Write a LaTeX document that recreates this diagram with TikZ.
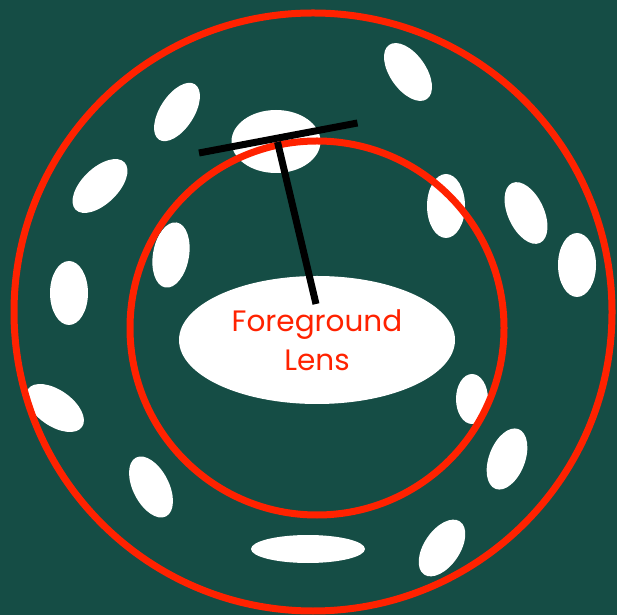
\documentclass[tikz,border=0pt]{standalone}
\usepackage{fontspec}
\usetikzlibrary{shapes.geometric}
\newfontfamily\lensfont{Poppins}
\begin{document}
\begin{tikzpicture}[x=1pt,y=1pt,
  spot/.style={fill=white},
  ring/.style={draw=ringred,line width=7pt},
  tbar/.style={draw=black,line width=7pt},
  lensnode/.style={ellipse,fill=white,minimum width=276pt,minimum height=128pt,inner sep=0pt,align=center,text=ringred,font=\lensfont\fontsize{29.5}{39}\selectfont}]
\definecolor{bg}{RGB}{21,77,69}
\definecolor{ringred}{RGB}{255,34,0}
\fill[bg] (0,0) rectangle (617,615);
\useasboundingbox (0,0) rectangle (617,615);
% white spots
\foreach \x/\y/\a/\b/\t in {276/473.5/44.5/31.5/0, 177/503/33/17/57, 408/543/33/18/125,
  100/429/34/18/44, 69/322/19/32/0, 171/360/33/18/80, 446/409/19/32/0,
  526/402/33/18/115, 577/350/19/32/0, 55/207/33/18/-35, 472/216/16/25/0,
  151/128/33/18/117, 507/156/32/18/69, 308/66/57/14/0, 442/67/32/18/56}
  \fill[spot,rotate around={\t:(\x,\y)}] (\x,\y) ellipse ({\a} and {\b});
% rings
\draw[ring] (313,303) circle (299);
\draw[ring] (317,287) circle (187);
% foreground lens
\node[lensnode] (lens) at (317,275) {Foreground\\Lens};
% T marker
\coordinate (barL) at (199,462);
\coordinate (barR) at (357.5,492);
\coordinate (stemTop) at (277.5,473);
\coordinate (stemBot) at (316,311);
\draw[tbar] (barL) -- (barR);
\draw[tbar] (stemTop) -- (stemBot);
\end{tikzpicture}
\end{document}
